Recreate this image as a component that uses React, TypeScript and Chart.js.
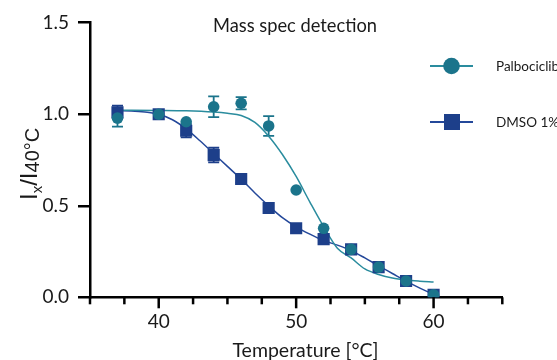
import React, { useEffect, useRef } from "react";
import { Chart, registerables } from "chart.js";

Chart.register(...registerables);

// ---- data ----
const temps = [37, 40, 42, 44, 46, 48, 50, 52, 54, 56, 58, 60];
const palboValues = [0.979, 1.0, 0.959, 1.041, 1.06, 0.936, 0.586, 0.377, 0.262, 0.165, 0.089, 0.013];
const palboErrors = [0.047, 0, 0, 0.057, 0.034, 0.054, 0, 0, 0, 0, 0, 0];
const dmsoValues = [1.01, 1.0, 0.91, 0.777, 0.646, 0.488, 0.377, 0.318, 0.262, 0.165, 0.089, 0.013];
const dmsoErrors = [0.037, 0, 0.036, 0.04, 0.02, 0, 0, 0, 0, 0, 0, 0];

const palboFitX = [37, 40, 42, 44, 45, 46, 47, 48, 49, 50, 51, 52, 53, 54, 55, 56, 57, 58, 59, 60];
const palboFitY = [1.022, 1.021, 1.019, 1.012, 1.005, 0.993, 0.955, 0.88, 0.78, 0.66, 0.52, 0.386, 0.268, 0.215, 0.155, 0.125, 0.105, 0.094, 0.088, 0.084];
const dmsoFitX = [37, 38, 39, 40, 41, 42, 43, 44, 45, 46, 47, 48, 49, 50, 51, 52, 53, 54, 55, 56, 57, 58, 59, 60];
const dmsoFitY = [1.02, 1.018, 1.012, 1.0, 0.97, 0.92, 0.855, 0.785, 0.715, 0.645, 0.57, 0.5, 0.435, 0.385, 0.345, 0.31, 0.285, 0.255, 0.215, 0.172, 0.13, 0.088, 0.05, 0.016];

const xTickValues = [35, 37.5, 40, 42.5, 45, 47.5, 50, 52.5, 55, 57.5, 60, 62.5, 65];
const xTickLabels = [40, 50, 60];
const yTickValues = [0, 0.5, 1.0, 1.5];

const seriesNames = ["Palbociclib", "DMSO 1%"];
const chartTitle = "Mass spec detection";
const xTitle = "Temperature [°C]";

const TEAL = "#1b748b";
const TEAL_LINE = "#2a8c9e";
const BLUE = "#1d3f8a";
const BLUE_LINE = "#24489a";
const FONT = "Lato";

const decorPlugin = {
  id: "decor",
  beforeDatasetsDraw(chart: any) {
    const ctx = chart.ctx;
    const xs = chart.scales.x;
    const ys = chart.scales.y;
    const groups = [
      { vals: palboValues, errs: palboErrors, color: TEAL },
      { vals: dmsoValues, errs: dmsoErrors, color: BLUE },
    ];
    ctx.save();
    ctx.lineWidth = 1.8;
    groups.forEach((g) => {
      ctx.strokeStyle = g.color;
      temps.forEach((t, i) => {
        const e = g.errs[i];
        if (!e) return;
        const px = xs.getPixelForValue(t);
        const top = ys.getPixelForValue(g.vals[i] + e);
        const bot = ys.getPixelForValue(g.vals[i] - e);
        ctx.beginPath();
        ctx.moveTo(px, top);
        ctx.lineTo(px, bot);
        ctx.moveTo(px - 5.5, top);
        ctx.lineTo(px + 5.5, top);
        ctx.moveTo(px - 5.5, bot);
        ctx.lineTo(px + 5.5, bot);
        ctx.stroke();
      });
    });
    ctx.restore();
  },
  afterDraw(chart: any) {
    const ctx = chart.ctx;
    const xs = chart.scales.x;
    const area = chart.chartArea;
    ctx.save();
    // x tick marks
    ctx.strokeStyle = "#000";
    ctx.lineWidth = 2.5;
    xTickValues.forEach((v) => {
      const px = xs.getPixelForValue(v);
      const major = xTickLabels.includes(v);
      ctx.beginPath();
      ctx.moveTo(px, area.bottom);
      ctx.lineTo(px, area.bottom + (major ? 11 : 7));
      ctx.stroke();
    });
    // title
    ctx.fillStyle = "#1a1a1a";
    ctx.textAlign = "center";
    ctx.textBaseline = "alphabetic";
    ctx.font = `18.3px ${FONT}`;
    ctx.fillText(chartTitle, 295, 32);
    // x title
    ctx.font = `19.5px ${FONT}`;
    ctx.fillText(xTitle, 305.5, 357);
    // y title with subscripts
    ctx.save();
    ctx.translate(37, 200);
    ctx.rotate(-Math.PI / 2);
    ctx.textAlign = "left";
    const parts = [
      { t: "I", size: 24, dy: 0 },
      { t: "x", size: 15, dy: 5 },
      { t: "/I", size: 24, dy: 0 },
      { t: "40°C", size: 20, dy: 2 },
    ];
    let cx = 0;
    parts.forEach((p) => {
      ctx.font = `${p.size}px "Liberation Sans"`;
      ctx.fillText(p.t, cx, p.dy);
      cx += ctx.measureText(p.t).width;
    });
    ctx.restore();
    // legend
    const items = [
      { name: seriesNames[0], y: 66, color: TEAL, line: TEAL_LINE, shape: "circle" },
      { name: seriesNames[1], y: 122, color: BLUE, line: BLUE_LINE, shape: "square" },
    ];
    items.forEach((it) => {
      ctx.strokeStyle = it.line;
      ctx.lineWidth = 2.2;
      ctx.beginPath();
      ctx.moveTo(430, it.y);
      ctx.lineTo(473, it.y);
      ctx.stroke();
      ctx.fillStyle = it.color;
      if (it.shape === "circle") {
        ctx.beginPath();
        ctx.arc(451.5, it.y, 8.3, 0, Math.PI * 2);
        ctx.fill();
      } else {
        ctx.fillRect(444, it.y - 8, 16, 16);
      }
      ctx.fillStyle = "#1a1a1a";
      ctx.textAlign = "left";
      ctx.textBaseline = "middle";
      ctx.font = `13.5px ${FONT}`;
      ctx.fillText(it.name, 496, it.y + 1);
    });
    ctx.restore();
  },
};

export default function App() {
  const ref = useRef<HTMLCanvasElement | null>(null);
  useEffect(() => {
    if (!ref.current) return;
    const chart = new Chart(ref.current, {
      type: "scatter",
      data: {
        datasets: [
          {
            label: seriesNames[0],
            data: temps.map((t, i) => ({ x: t, y: palboValues[i] })),
            backgroundColor: TEAL,
            borderColor: TEAL,
            borderWidth: 0,
            pointStyle: "circle",
            pointRadius: 5.8,
            showLine: false,
          },
          {
            label: seriesNames[1],
            data: temps.map((t, i) => ({ x: t, y: dmsoValues[i] })),
            backgroundColor: BLUE,
            borderColor: BLUE,
            borderWidth: 0,
            pointStyle: "rect",
            pointRadius: 8.6,
            showLine: false,
          },
          {
            label: "palbo fit",
            data: palboFitX.map((t, i) => ({ x: t, y: palboFitY[i] })),
            borderColor: TEAL_LINE,
            borderWidth: 1.5,
            pointRadius: 0,
            showLine: true,
            cubicInterpolationMode: "monotone",
          },
          {
            label: "dmso fit",
            data: dmsoFitX.map((t, i) => ({ x: t, y: dmsoFitY[i] })),
            borderColor: BLUE_LINE,
            borderWidth: 1.5,
            pointRadius: 0,
            showLine: true,
            cubicInterpolationMode: "monotone",
          },
        ],
      },
      options: {
        animation: false,
        responsive: false,
        devicePixelRatio: 1,
        layout: { padding: { left: 0, top: 22.7, right: 54.7, bottom: 0 } },
        plugins: { legend: { display: false }, tooltip: { enabled: false }, title: { display: false } },
        scales: {
          x: {
            type: "linear",
            min: 35,
            max: 65,
            afterBuildTicks: (scale: any) => {
              scale.ticks = xTickValues.map((v) => ({ value: v }));
            },
            afterFit: (scale: any) => {
              scale.height = 62.7;
            },
            ticks: {
              autoSkip: false,
              maxRotation: 0,
              padding: 13,
              color: "#1a1a1a",
              font: { family: FONT, size: 19 },
              callback: (v: any) => (xTickLabels.includes(Number(v)) ? String(v) : ""),
            },
            grid: { display: false, drawTicks: false, tickLength: 0 },
            border: { display: true, color: "#000", width: 2.5 },
          },
          y: {
            type: "linear",
            min: 0,
            max: 1.5,
            afterBuildTicks: (scale: any) => {
              scale.ticks = yTickValues.map((v) => ({ value: v }));
            },
            afterFit: (scale: any) => {
              scale.width = 90;
            },
            ticks: {
              padding: 9,
              color: "#1a1a1a",
              font: { family: FONT, size: 19 },
              callback: (v: any) => Number(v).toFixed(1),
            },
            grid: {
              display: true,
              drawOnChartArea: false,
              drawTicks: true,
              tickLength: 12,
              color: "#000",
              lineWidth: 2.5,
            },
            border: { display: true, color: "#000", width: 2.5 },
          },
        },
      },
      plugins: [decorPlugin],
    } as any);
    return () => chart.destroy();
  }, []);
  return (
    <div style={{ position: "fixed", left: 0, top: 0, width: 557, height: 360 }}>
      <canvas ref={ref} width={557} height={360} style={{ width: 557, height: 360 }} />
    </div>
  );
}
